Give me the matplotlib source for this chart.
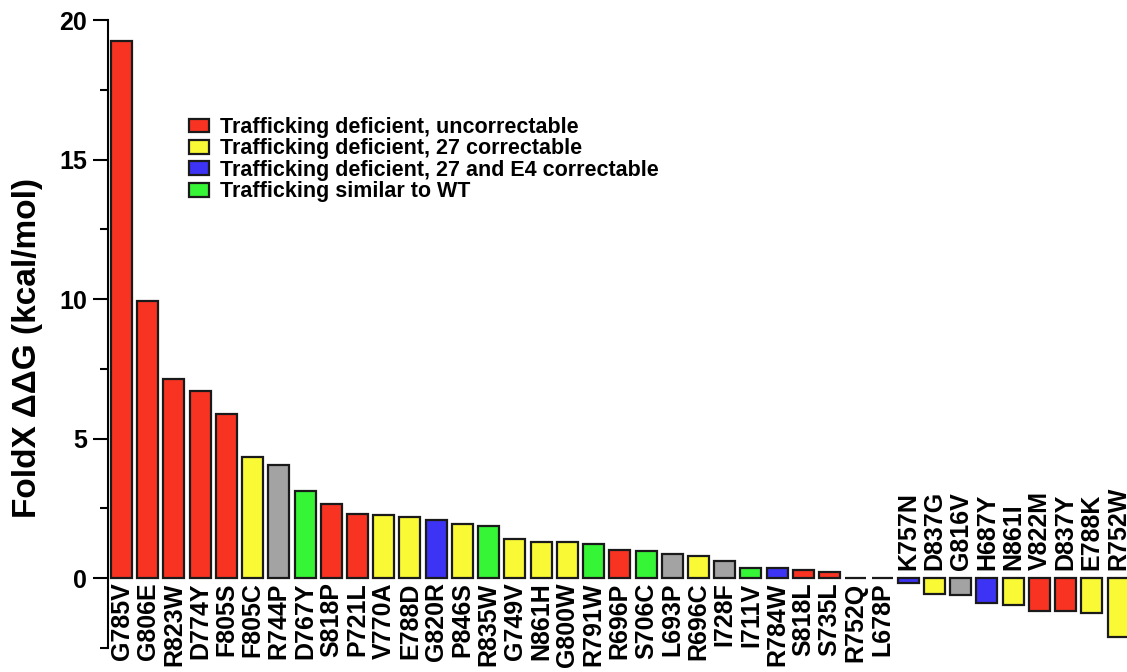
import numpy as np
import matplotlib.pyplot as plt
from matplotlib.patches import Patch

plt.rcParams['font.family'] = ['Liberation Sans', 'DejaVu Sans']
plt.rcParams['font.weight'] = 'bold'

# Mutations sorted by FoldX stability change
mutations = ["G785V", "G806E", "R823W", "D774Y", "F805S", "F805C", "R744P", "D767Y",
             "S818P", "P721L", "V770A", "E788D", "G820R", "P846S", "R835W", "G749V",
             "N861H", "G800W", "R791W", "R696P", "S706C", "L693P", "R696C", "I728F",
             "I711V", "R784W", "S818L", "S735L", "R752Q", "L678P",
             "K757N", "D837G", "G816V", "H687Y", "N861I", "V822M", "D837Y", "E788K", "R752W"]
ddg = [19.25, 9.95, 7.12, 6.69, 5.90, 4.36, 4.04, 3.11,
       2.65, 2.29, 2.25, 2.18, 2.08, 1.93, 1.86, 1.40,
       1.31, 1.31, 1.24, 1.00, 0.98, 0.86, 0.80, 0.63,
       0.38, 0.36, 0.30, 0.23, 0.0, 0.0,
       -0.18, -0.55, -0.60, -0.87, -0.97, -1.16, -1.18, -1.25, -2.11]
# trafficking class of each mutation
group = ["unc", "unc", "unc", "unc", "unc", "c27", "nd", "wt",
         "unc", "unc", "c27", "c27", "e4", "c27", "wt", "c27",
         "c27", "c27", "wt", "unc", "wt", "nd", "c27", "nd",
         "wt", "e4", "unc", "unc", "nd", "nd",
         "e4", "c27", "nd", "e4", "c27", "unc", "unc", "c27", "c27"]

colors = {"unc": "#F93322", "c27": "#F9F936", "e4": "#3D33F5", "wt": "#36F536", "nd": "#A3A3A3"}
legend_labels = [("unc", "Trafficking deficient, uncorrectable"),
                 ("c27", "Trafficking deficient, 27 correctable"),
                 ("e4", "Trafficking deficient, 27 and E4 correctable"),
                 ("wt", "Trafficking similar to WT")]

fig = plt.figure(figsize=(11.27, 6.72), dpi=100)
ax = fig.add_axes([108 / 1127, 1 - 648 / 672, 1 - 108 / 1127, (648 - 20) / 672])

x = np.arange(len(mutations))
ax.bar(x, ddg, width=0.8, color=[colors[g] for g in group],
       edgecolor="#1a1a1a", linewidth=1.6)

# labels under positive bars, above negative bars
for xi, name, v in zip(x, mutations, ddg):
    if v >= 0:
        ax.annotate(name, (xi, 0), xytext=(0, -3), textcoords="offset points",
                    rotation=90, ha="center", va="top", fontsize=18, fontweight="bold",
                    annotation_clip=False)
    else:
        ax.annotate(name, (xi, 0), xytext=(0, 6), textcoords="offset points",
                    rotation=90, ha="center", va="bottom", fontsize=18, fontweight="bold")

ax.set_xlim(-0.515, 38.34)
ax.set_ylim(-2.5, 20)
ax.set_xticks([])
ax.set_yticks([0, 5, 10, 15, 20])
ax.set_yticks([-2.5, 2.5, 7.5, 12.5, 17.5], minor=True)
ax.tick_params(axis="y", which="major", length=11, width=1.5, labelsize=18, pad=4)
ax.tick_params(axis="y", which="minor", length=6, width=1.5)
for s in ["top", "right", "bottom"]:
    ax.spines[s].set_visible(False)
ax.spines["left"].set_linewidth(1.5)
ax.set_ylabel("FoldX \u0394\u0394G (kcal/mol)", fontsize=24, fontweight="bold", va="center")
ax.yaxis.set_label_coords((28 - 108) / 1019, (648 - 348) / 628)

handles = [Patch(facecolor=colors[k], edgecolor="#1a1a1a", linewidth=1.6, label=t)
           for k, t in legend_labels]
fig.legend(handles=handles, loc="upper left", bbox_to_anchor=(189 / 1127, 1 - 117 / 672),
           frameon=False, handlelength=0.93, handleheight=0.6,
           handletextpad=0.5, labelspacing=0.02, borderpad=0, borderaxespad=0,
           prop={"weight": "bold", "size": 15.5})

fig.savefig("out.png", dpi=100)
